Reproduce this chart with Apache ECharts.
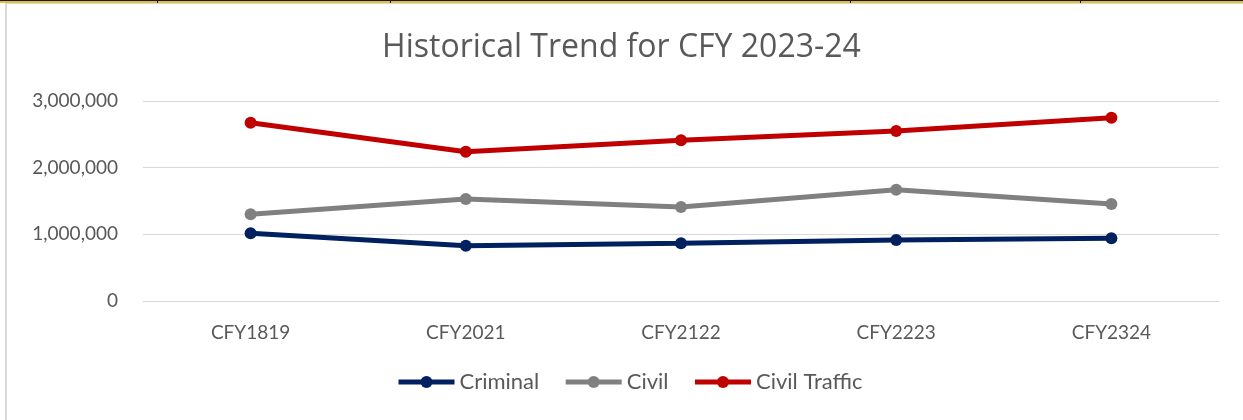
<!DOCTYPE html>
<html>
<head>
<meta charset="utf-8">
<script src="https://cdn.jsdelivr.net/npm/echarts@6/dist/echarts.min.js"></script>
<style>
  html, body { margin: 0; padding: 0; background: #fff; }
  #chart { width: 1243px; height: 420px; }
</style>
</head>
<body>
<div id="chart"></div>
<script>
const categories = ["CFY1819", "CFY2021", "CFY2122", "CFY2223", "CFY2324"]
const criminal = [1015000, 830000, 865000, 915000, 940000]
const civil = [1300000, 1530000, 1410000, 1670000, 1455000]
const civilTraffic = [2675000, 2240000, 2410000, 2550000, 2750000]
const yTicks = [0, 1000000, 2000000, 3000000]

const FONT = "Lato"
const TEXT = "#595959"

const chart = echarts.init(document.getElementById("chart"))

function line(name, data, color) {
  return {
    name,
    type: "line",
    data,
    symbol: "circle",
    symbolSize: 12,
    lineStyle: { width: 5, color },
    itemStyle: { color },
    emphasis: { disabled: true }
  }
}

// thin dark/yellow cell borders from the spreadsheet around the chart
function bar(x, y, w, h, fill) {
  return { type: "rect", silent: true, shape: { x, y, width: w, height: h }, style: { fill } }
}

chart.setOption({
  animation: false,
  title: {
    text: "Historical Trend for CFY 2023-24",
    left: "center",
    top: 27,
    textStyle: { fontFamily: "Open Sans", fontSize: 32, fontWeight: "normal", color: TEXT }
  },
  legend: {
    bottom: 22,
    left: 391,
    itemWidth: 56,
    itemHeight: 15,
    itemGap: 24,
    lineStyle: { width: 5 },
    textStyle: { fontFamily: FONT, fontSize: 22, fontWeight: "normal", color: TEXT },
    data: ["Criminal", "Civil", "Civil Traffic"]
  },
  grid: { left: 143, right: 24, top: 101, bottom: 119 },
  xAxis: {
    type: "category",
    data: categories,
    axisLine: { lineStyle: { color: "#d9d9d9", width: 1 } },
    axisTick: { show: false },
    axisLabel: { fontFamily: FONT, fontSize: 19, color: TEXT, margin: 22 }
  },
  yAxis: {
    type: "value",
    min: yTicks[0],
    max: yTicks[yTicks.length - 1],
    interval: yTicks[1] - yTicks[0],
    axisLine: { show: false },
    axisTick: { show: false },
    splitLine: { lineStyle: { color: "#d9d9d9", width: 1 } },
    axisLabel: {
      fontFamily: FONT, fontSize: 19, color: TEXT, margin: 25,
      formatter: v => v.toLocaleString("en-US")
    }
  },
  graphic: [
    bar(0, 0, 1243, 1, "#1a1a1a"),
    bar(0, 1, 1243, 2, "#e0bf3c"),
    bar(5, 3, 1238, 1, "#d9d9d9"),
    bar(5, 3, 2, 417, "#d9d9d9"),
    bar(157, 0, 1, 3, "#1a1a1a"),
    bar(390, 0, 1, 3, "#1a1a1a"),
    bar(850, 0, 1, 3, "#1a1a1a"),
    bar(1080, 0, 1, 3, "#1a1a1a")
  ],
  series: [
    line("Criminal", criminal, "#002060"),
    line("Civil", civil, "#808080"),
    line("Civil Traffic", civilTraffic, "#c00000")
  ]
})
</script>
</body>
</html>
